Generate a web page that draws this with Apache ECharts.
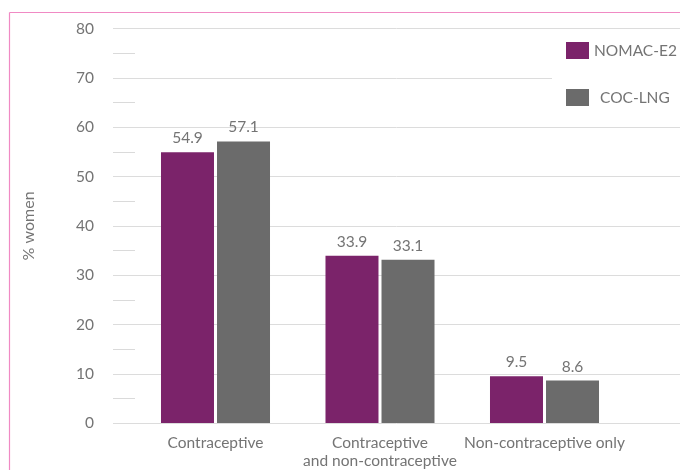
<!DOCTYPE html>
<html>
<head>
<meta charset="utf-8">
<script src="https://cdn.jsdelivr.net/npm/echarts@6/dist/echarts.min.js"></script>
<style>
html,body{margin:0;padding:0;background:#fff;}
#chart{width:680px;height:470px;}
</style>
</head>
<body>
<div id="chart"></div>
<script>
const categories = ['Contraceptive', 'Contraceptive\nand non-contraceptive', 'Non-contraceptive only'];
const seriesNames = ['NOMAC-E2', 'COC-LNG'];
const nomacValues = [54.9, 33.9, 9.5];
const cocValues = [57.1, 33.1, 8.6];
const yAxisName = '% women';

const FONT = 'Lato';
const TXT = '#747474';
const chart = echarts.init(document.getElementById('chart'), null, {renderer: 'canvas'});

const gridTop = 28.5, gridBottom = 46.7;

chart.setOption({
  animation: false,
  backgroundColor: '#ffffff',
  textStyle: {fontFamily: FONT},
  graphic: [
    {type: 'line', shape: {x1: 9.5, y1: 12.5, x2: 680, y2: 12.5}, style: {stroke: '#f08ac4', lineWidth: 1.2}},
    {type: 'line', shape: {x1: 9.5, y1: 12.5, x2: 9.5, y2: 470}, style: {stroke: '#f08ac4', lineWidth: 1.2}}
  ],
  legend: {
    orient: 'vertical',
    left: 552,
    top: 30,
    padding: [12, 30, 12, 14],
    backgroundColor: '#ffffff',
    icon: 'rect',
    itemWidth: 23,
    itemHeight: 17,
    itemGap: 30,
    textStyle: {fontFamily: FONT, fontSize: 15.5, color: TXT},
    data: [
      {name: seriesNames[0]},
      {name: seriesNames[1], textStyle: {padding: [0, 0, 0, 6]}}
    ]
  },
  grid: [
    {left: 113, right: 0, top: gridTop, bottom: gridBottom},
    {left: 133.25, right: 53.25, top: gridTop, bottom: gridBottom}
  ],
  xAxis: [
    {type: 'category', gridIndex: 0, data: categories, show: false},
    {
      type: 'category', gridIndex: 1, data: categories,
      axisLine: {show: false}, axisTick: {show: false},
      axisLabel: {margin: 11, fontFamily: FONT, fontSize: 15.5, color: TXT, lineHeight: 18, interval: 0}
    }
  ],
  yAxis: [
    {
      type: 'value', gridIndex: 0, min: 0, max: 80, interval: 10,
      name: yAxisName, nameLocation: 'middle', nameGap: 76, nameRotate: 90,
      nameTextStyle: {fontFamily: FONT, fontSize: 16, color: TXT},
      axisLine: {show: false},
      axisTick: {show: false, inside: true},
      minorTick: {show: true, splitNumber: 2, length: 22, lineStyle: {color: '#dadada', width: 1}},
      splitLine: {show: true, lineStyle: {color: '#dcdcdc', width: 1}},
      axisLabel: {margin: 19, fontFamily: FONT, fontSize: 15.5, color: TXT}
    },
    {type: 'value', gridIndex: 1, min: 0, max: 80, interval: 10, show: false, splitLine: {show: false}}
  ],
  series: [
    {
      name: seriesNames[0], type: 'bar', xAxisIndex: 1, yAxisIndex: 1,
      data: nomacValues, barWidth: 53, barGap: '5.7%',
      itemStyle: {color: '#7b236a'},
      label: {show: true, position: 'top', distance: 6, fontFamily: FONT, fontSize: 15.5, color: TXT}
    },
    {
      name: seriesNames[1], type: 'bar', xAxisIndex: 1, yAxisIndex: 1,
      data: cocValues, barWidth: 53, barGap: '5.7%',
      itemStyle: {color: '#6b6b6b'},
      label: {show: true, position: 'top', distance: 6, fontFamily: FONT, fontSize: 15.5, color: TXT}
    }
  ]
});
</script>
</body>
</html>
